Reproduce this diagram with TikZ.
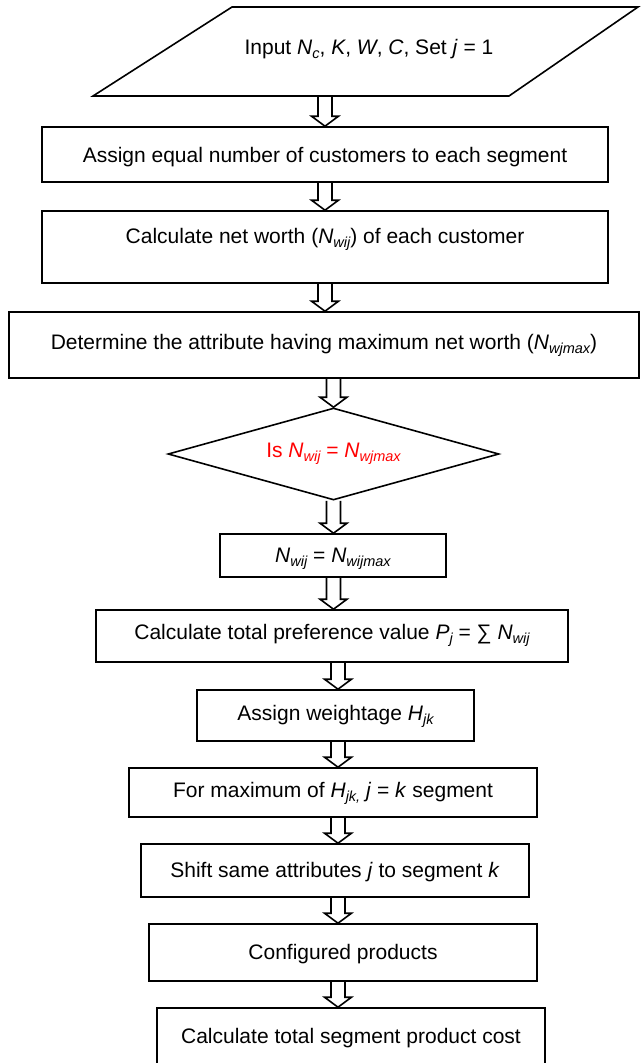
\documentclass[tikz,border=0pt]{standalone}
\usepackage{fontspec}
\setmainfont{Liberation Sans}
\usetikzlibrary{shapes.geometric,calc}
\definecolor{decred}{RGB}{255,0,0}
\newcommand\itx[1]{\textit{#1}}
\newcommand\subx[1]{\raisebox{-4.5pt}{\fontsize{14.5pt}{15pt}\selectfont\itshape #1}}
\begin{document}
\begin{tikzpicture}[x=1pt,y=-1pt,
  every node/.style={font=\fontsize{21pt}{25pt}\selectfont},
  ln/.style={line width=1.6pt},
  procbox/.style={draw, ln, anchor=base, inner xsep=0pt, inner ysep=0pt},
  blk/.style={ln, line join=miter, to path={let \p1=(\tikztostart), \p2=(\tikztotarget) in
     (\x1-7pt,\y1) -- (\x1-7pt,\y2+10pt) -- (\x1-13.5pt,\y2+10pt) -- (\x1,\y2)
     -- (\x1+13.5pt,\y2+10pt) -- (\x1+7pt,\y2+10pt) -- (\x1+7pt,\y1)}}
]
\useasboundingbox (0,0) rectangle (640,1063);

% input parallelogram
\coordinate (pTL) at (232,7);
\coordinate (pTR) at (638,7);
\coordinate (pBR) at (509,96);
\coordinate (pBL) at (93,96);
\draw[ln, line join=miter] (pTL) -- (pTR) -- (pBR) -- (pBL) -- cycle;
\node[inner sep=0pt] (in) at (369,49)
      {Input \itx{N}\subx{c}, \itx{K}, \itx{W}, \itx{C}, Set \itx{j} = 1};
\coordinate (inb) at (325,96);

\node[procbox, minimum width=566pt, text height=35pt, text depth=20pt] (b1) at (325,162)
  {Assign equal number of customers to each segment};
\node[procbox, minimum width=566pt, text height=32pt, text depth=40pt] (b2) at (325,243)
  {Calculate net worth (\itx{N}\subx{wij}) of each customer};
\node[procbox, minimum width=630pt, text height=37pt, text depth=29pt] (b3) at (324,349)
  {Determine the attribute having maximum net worth (\itx{N}\subx{wjmax})};
\node[draw, ln, diamond, aspect=3.6, minimum width=331pt, minimum height=92pt, inner sep=0pt,
      text=decred] (dia) at (333.5,454)
  {Is \itx{N}\subx{wij} = \itx{N}\subx{wjmax}};
\node[procbox, minimum width=226pt, text height=28pt, text depth=15pt] (b4) at (333,562)
  {\itx{N}\subx{wij} = \itx{N}\subx{wijmax}};
\node[procbox, minimum width=472pt, text height=29pt, text depth=23pt] (b5) at (332,639)
  {Calculate total preference value \itx{P}\subx{j} = ∑ \itx{N}\subx{wij}};
\node[procbox, minimum width=277pt, text height=30pt, text depth=21pt] (b6) at (335.5,720)
  {Assign weightage \itx{H}\subx{jk}};
\node[procbox, minimum width=408pt, text height=29pt, text depth=20pt] (b7) at (333,797)
  {For maximum of \itx{H}\subx{jk,} \itx{j} = \itx{k} segment};
\node[procbox, minimum width=388pt, text height=33pt, text depth=20pt] (b8) at (335,877)
  {Shift same attributes \itx{j} to segment \itx{k}};
\node[procbox, minimum width=388pt, text height=35pt, text depth=22pt] (b9) at (343,959)
  {Configured products};
\node[procbox, minimum width=388pt, text height=35pt, text depth=23pt] (b10) at (351,1043)
  {Calculate total segment product cost};

\coordinate (colA) at (325,0);
\coordinate (colB) at (333.5,0);
\coordinate (colC) at (338,0);

\draw[blk] (inb) to (b1.north -| colA);
\draw[blk] (b1.south -| colA) to (b2.north -| colA);
\draw[blk] (b2.south -| colA) to (b3.north -| colA);
\draw[blk] (b3.south -| colB) to (dia.north);
\draw[blk] (dia.south) to (b4.north -| colB);
\draw[blk] (b4.south -| colB) to (b5.north -| colB);
\draw[blk] (b5.south -| colC) to (b6.north -| colC);
\draw[blk] (b6.south -| colC) to (b7.north -| colC);
\draw[blk] (b7.south -| colC) to (b8.north -| colC);
\draw[blk] (b8.south -| colC) to (b9.north -| colC);
\draw[blk] (b9.south -| colC) to (b10.north -| colC);
\end{tikzpicture}
\end{document}
